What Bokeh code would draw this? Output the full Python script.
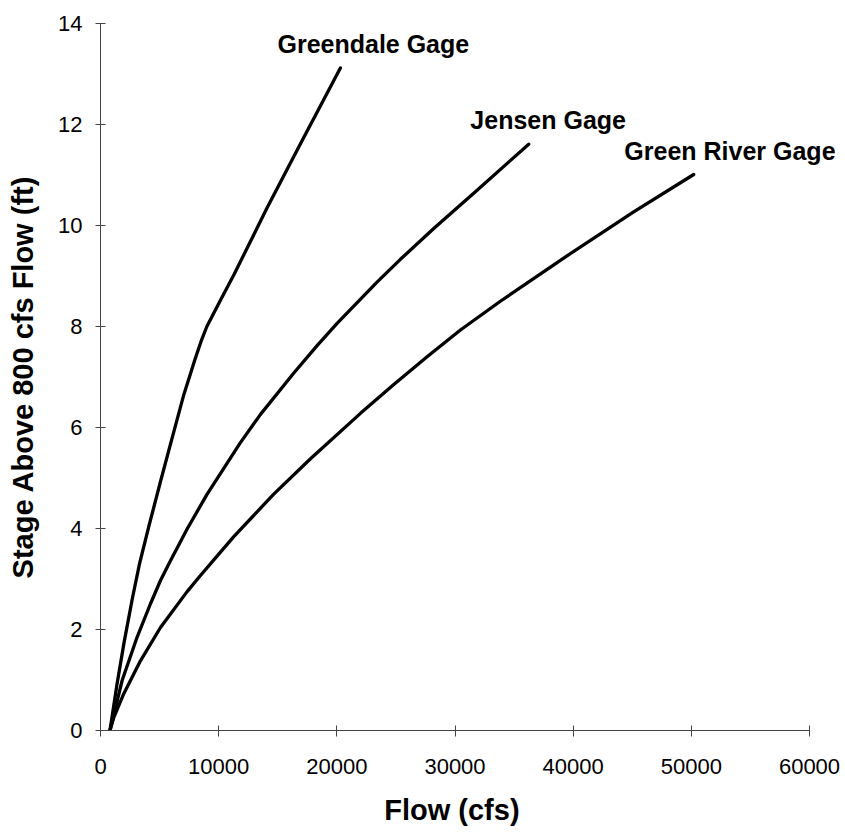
from bokeh.plotting import figure
from bokeh.models import Range1d, FixedTicker, Label
from bokeh.embed import file_html
from bokeh.resources import INLINE

# ---- data ----
greendale_flow = [800, 1400, 2000, 2700, 3300, 4100, 5100, 5900, 7050, 8000, 8500, 9000, 10150, 11300, 14100, 16900, 20300]
greendale_stage = [0, 0.92, 1.75, 2.62, 3.30, 4.05, 4.95, 5.65, 6.65, 7.35, 7.70, 8.00, 8.52, 9.03, 10.35, 11.61, 13.12]

jensen_flow = [800, 1830, 3100, 4230, 5075, 5920, 7330, 9025, 11840, 13540, 16360, 18330, 20020, 23400, 25380, 28200, 31870, 36240]
jensen_stage = [0, 0.99, 1.85, 2.51, 2.97, 3.36, 3.99, 4.68, 5.70, 6.26, 7.08, 7.62, 8.06, 8.88, 9.33, 9.94, 10.70, 11.61]

greenriver_flow = [800, 1130, 1970, 3380, 5075, 7330, 8460, 9590, 11280, 14660, 17770, 22000, 24820, 27640, 30460, 33840, 39480, 45120, 50200]
greenriver_stage = [0, 0.26, 0.73, 1.38, 2.04, 2.75, 3.07, 3.38, 3.84, 4.68, 5.38, 6.28, 6.85, 7.40, 7.93, 8.50, 9.40, 10.27, 11.01]

curve_names = ["Greendale Gage", "Jensen Gage", "Green River Gage"]
label_flow = [14975, 31300, 44330]
label_stage = [13.59, 12.08, 11.47]

x_ticks = [0, 10000, 20000, 30000, 40000, 50000, 60000]
x_tick_labels = ["0", "10000", "20000", "30000", "40000", "50000", "60000"]
y_ticks = [0, 2, 4, 6, 8, 10, 12, 14]
y_tick_labels = ["0", "2", "4", "6", "8", "10", "12", "14"]

x_title = "Flow (cfs)"
y_title = "Stage Above 800 cfs Flow (ft)"

FONT = "Liberation Sans"

# The x range runs a little past the last tick so that the right-hand curve label is not
# clipped by the frame; the axis line itself stops at the last tick (bounds).
p = figure(width=845, height=832, output_backend="svg", toolbar_location=None,
           x_range=Range1d(0, 62200), y_range=Range1d(y_ticks[0], y_ticks[-1]),
           min_border_left=100, min_border_right=10, min_border_top=23, min_border_bottom=102)

p.background_fill_color = "white"
p.border_fill_color = "white"
p.outline_line_color = None
p.grid.visible = False

p.xaxis.ticker = FixedTicker(ticks=x_ticks)
p.yaxis.ticker = FixedTicker(ticks=y_ticks)
p.xaxis.bounds = (x_ticks[0], x_ticks[-1])
p.xaxis.major_label_overrides = {t: l for t, l in zip(x_ticks, x_tick_labels)}
p.yaxis.major_label_overrides = {t: l for t, l in zip(y_ticks, y_tick_labels)}

for ax in (p.xaxis, p.yaxis):
    ax.axis_line_color = "#444444"
    ax.axis_line_width = 1
    ax.major_tick_line_color = "#444444"
    ax.major_tick_line_width = 1
    ax.minor_tick_line_color = None
    ax.major_label_text_font = FONT
    ax.major_label_text_font_size = "22px"
    ax.major_label_text_color = "black"
    ax.axis_label_text_font = FONT
    ax.axis_label_text_font_style = "bold"
    ax.axis_label_text_font_size = "29px"
    ax.axis_label_text_color = "black"

p.xaxis.major_tick_in = 5
p.xaxis.major_tick_out = 6
p.xaxis.major_label_standoff = 22
# trailing no-break spaces re-centre the title under the 0..60000 axis instead of the wider frame
p.xaxis.axis_label = x_title + "\u00a0" * 4
p.xaxis.axis_label_standoff = 17

p.yaxis.major_tick_in = 5
p.yaxis.major_tick_out = 5
p.yaxis.major_label_standoff = 13
p.yaxis.axis_label = y_title
p.yaxis.axis_label_standoff = 16

for fx, fy in ((greendale_flow, greendale_stage), (jensen_flow, jensen_stage), (greenriver_flow, greenriver_stage)):
    p.line(fx, fy, line_color="black", line_width=3.3, line_join="round", line_cap="round")

for name, lx, ly in zip(curve_names, label_flow, label_stage):
    p.add_layout(Label(x=lx, y=ly, text=name, text_font=FONT, text_font_style="bold",
                       text_font_size="25px", text_color="black",
                       text_align="left", text_baseline="alphabetic"))

open("out.html", "w").write(file_html(p, INLINE))
